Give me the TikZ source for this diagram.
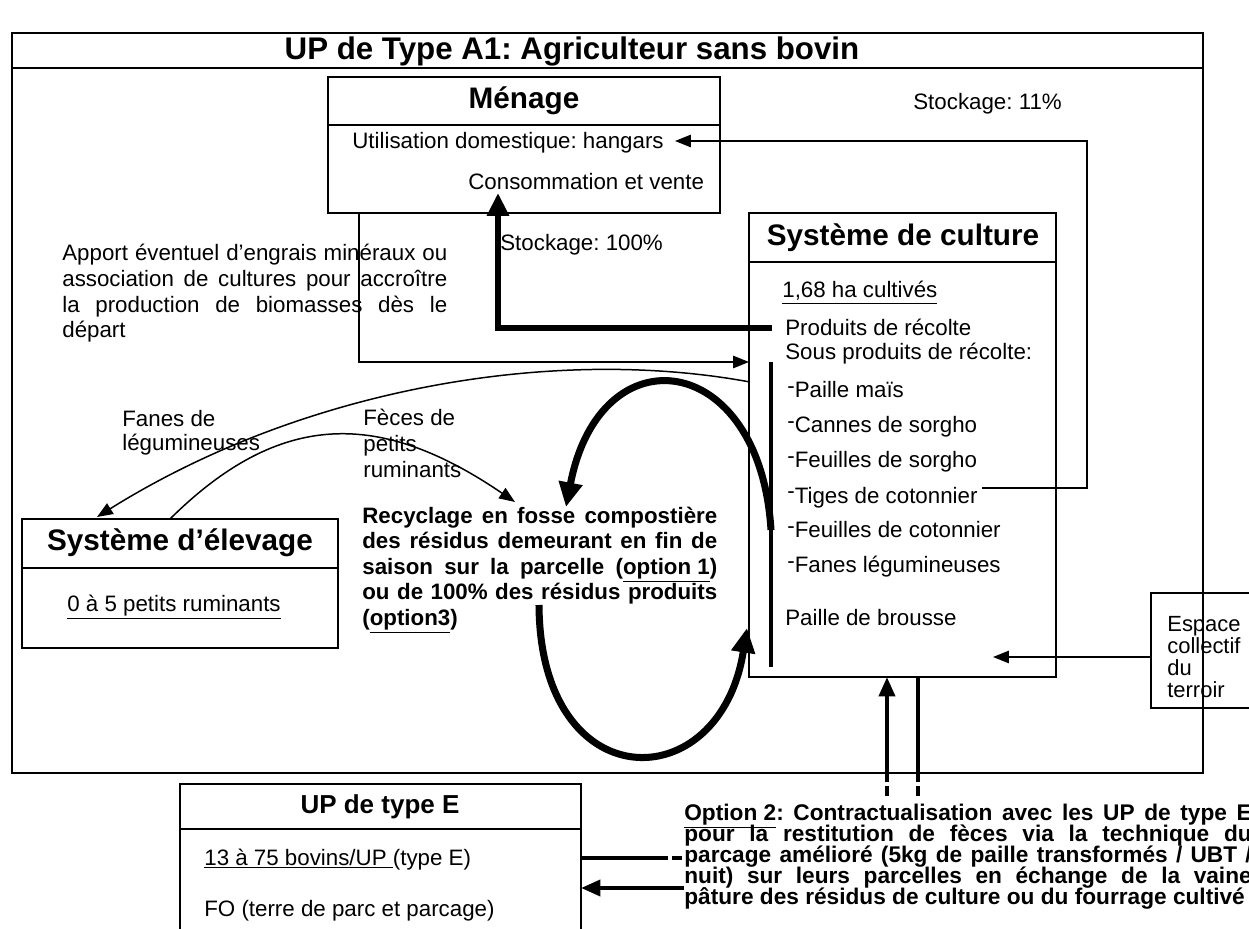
\documentclass[tikz,border=0pt]{standalone}
\usepackage{fontspec}
\setmainfont{Liberation Sans}
\usetikzlibrary{arrows.meta,fit}
\newcommand\bodyfs{\fontsize{12.7}{14.6}\selectfont}
\newcommand\headfs{\fontsize{16.9}{19}\selectfont\bfseries}
\newcommand\titlefs{\fontsize{17.8}{20}\selectfont\bfseries}
\newcommand\subheadfs{\fontsize{14.8}{17}\selectfont\bfseries}
\newcommand\tightsp{\spaceskip=0.278em plus 0.8em minus 0.05em\relax}
\newcommand\optfs{\fontsize{12.9}{12}\selectfont\bfseries\lineskiplimit=-\maxdimen\tightsp}
\newcommand\dashitem{\raisebox{0.22em}{-}}
\begin{document}
\frenchspacing
\hyphenpenalty=10000
\exhyphenpenalty=10000
\tolerance=9999
\begin{tikzpicture}[x=0.02cm,y=-0.02cm,
  boxline/.style={draw,line width=1.1pt,inner sep=0pt},
  thinline/.style={line width=0.85pt},
  thinarr/.style={line width=0.85pt,-{Triangle[length=9pt,width=7pt]}},
  thickarr/.style={line width=3.4pt,-{Triangle[length=13pt,width=12pt]}},
  curvearr/.style={line width=4pt,-{Triangle[length=14pt,width=13pt]}},
  medline/.style={line width=2.4pt},
  medarr/.style={line width=2.4pt,-{Triangle[length=11pt,width=9pt]}},
  lbl/.style={inner sep=0pt,font=\bodyfs,anchor=base west},
  every node/.style={font=\bodyfs}]
\useasboundingbox (0,0) rectangle (1249,929);
\clip (0,0) rectangle (1249,929);
\fill[white] (0,0) rectangle (1249,929);

% ---------- outer frame ----------
\coordinate (fr-nw) at (12,33);
\coordinate (fr-se) at (1203,773);
\node[boxline,fit=(fr-nw)(fr-se)] (frame) {};
\draw[line width=1.1pt] (12,68) -- (1203,68);
\node[font=\titlefs] (title) at (572,51) {UP de Type A1: Agriculteur sans bovin};

% ---------- Menage ----------
\coordinate (me-nw) at (328,77);
\coordinate (me-se) at (720,213);
\node[boxline,fit=(me-nw)(me-se)] (menage) {};
\draw[line width=1.1pt] (328,125) -- (720,125);
\node[font=\headfs] (menageT) at (524,101) {Ménage};
\node[lbl] (hangars) at (352,149) {Utilisation domestique: hangars};
\node[lbl] (conso) at (468,190) {Consommation et vente};

% ---------- Systeme de culture ----------
\coordinate (cu-nw) at (749,213);
\coordinate (cu-se) at (1056,677);
\node[boxline,fit=(cu-nw)(cu-se)] (culture) {};
\draw[line width=1.1pt] (749,262) -- (1056,262);
\node[font=\headfs] (cultureT) at (903,238) {Système de culture};
\node[lbl] (ha) at (782,298) {\underline{1,68 ha cultivés}};
\node[lbl] (prod) at (785,336) {Produits de récolte};
\node[lbl] (sousprod) at (785,360) {Sous produits de récolte:};
\node[lbl] (i1) at (787,398) {\dashitem Paille maïs};
\node[lbl] (i2) at (787,433) {\dashitem Cannes de sorgho};
\node[lbl] (i3) at (787,468) {\dashitem Feuilles de sorgho};
\node[lbl] (i4) at (787,503) {\dashitem Tiges de cotonnier};
\node[lbl] (i5) at (787,538) {\dashitem Feuilles de cotonnier};
\node[lbl] (i6) at (787,573) {\dashitem Fanes légumineuses};
\node[lbl] (brousse) at (785,625) {Paille de brousse};
\draw[line width=2.8pt] (771,362) -- (771,667);

% ---------- Systeme d'elevage ----------
\coordinate (el-nw) at (22,519);
\coordinate (el-se) at (338,648);
\node[boxline,fit=(el-nw)(el-se)] (elevage) {};
\draw[line width=1.1pt] (22,568) -- (338,568);
\node[font=\headfs] (elevageT) at (180,543) {Système d’élevage};
\node[lbl] (rum) at (67,611) {\underline{0 à 5 petits ruminants}};

% ---------- Espace collectif ----------
\coordinate (es-nw) at (1151,593);
\coordinate (es-se) at (1265,708);
\node[boxline,fit=(es-nw)(es-se)] (espace) {};
\node[lbl,align=left,font=\fontsize{12.5}{12.5}\selectfont] (espaceT) at (1167,697) {Espace\\collectif\\du\\terroir};

% ---------- UP de type E ----------
\coordinate (ue-nw) at (180,784);
\coordinate (ue-se) at (581,945);
\node[boxline,fit=(ue-nw)(ue-se)] (upe) {};
\draw[line width=1.1pt] (180,829) -- (581,829);
\node[font=\subheadfs] (upeT) at (380,807) {UP de type E};
\node[lbl] (bovins) at (204,865) {\underline{13 à 75 bovins/UP }(type E)};
\node[lbl] (fo) at (204,916) {FO (terre de parc et parcage)};

% ---------- free texts ----------
\node[lbl] (stock11) at (913,110) {Stockage: 11\%};
\node[lbl] (stock100) at (500,251) {Stockage: 100\%};
\node[lbl,text width=7.7cm,align=justify,font=\bodyfs\tightsp] (apport) at (62,261)
  {Apport éventuel d’engrais minéraux ou association de cultures pour accroître la production de biomasses dès le départ};
\node[lbl,align=left,font=\fontsize{12.7}{14.2}\selectfont] (fanes) at (122,451) {Fanes de\\légumineuses};
\node[lbl,align=left,font=\fontsize{12.7}{14.8}\selectfont] (feces) at (363,478) {Fèces de\\petits\\ruminants};
\node[lbl,text width=7.1cm,align=justify,font=\fontsize{12.7}{14.6}\selectfont\bfseries\tightsp] (recyc) at (362,523)
  {Recyclage en fosse compostière des résidus demeurant en fin de saison sur la parcelle (\underline{option 1}) ou de 100\% des résidus produits (\underline{option3})};
\node[lbl,text width=11.35cm,align=justify,font=\optfs] (opt2) at (684,820)
  {\underline{Option 2}: Contractualisation avec les UP de type E\linebreak pour la restitution de fèces via la technique du\linebreak parcage amélioré (5kg de paille transformés / UBT /\linebreak nuit) sur leurs parcelles en échange de la vaine\linebreak pâture des résidus de culture ou du fourrage cultivé};

% ---------- connector points ----------
\coordinate (prodL) at (772,328);
\coordinate (consB) at (498,193);
\coordinate (meOut) at (359,213);
\coordinate (cuIn) at (749,362);
\coordinate (tigesR) at (982,488);
\coordinate (hangR) at (675,141);
\coordinate (espL) at (1151,657);
\coordinate (espTip) at (993,657);
\coordinate (fanesS) at (750,382);
\coordinate (elevIn) at (97,517);
\coordinate (elevOut) at (170,519);
\coordinate (fecesTip) at (515,502);
\coordinate (cStart) at (771,530);
\coordinate (cTip) at (566,507);
\coordinate (dStart) at (539,605);
\coordinate (dTip) at (747,628);
\coordinate (b1) at (887,677);
\coordinate (b2) at (918,677);
\coordinate (ueR1) at (581,858);
\coordinate (ueR2) at (581,888);

% ---------- connectors ----------
\draw[thickarr] (prodL) -| (consB);
\draw[thinarr] (meOut) |- (cuIn);
\draw[thinarr] (tigesR) -- (1087,488) -- (1087,141) -- (hangR);
\draw[thinarr] (espL) -- (espTip);
\draw[thinarr] (fanesS) .. controls (550,345) and (300,390) .. (elevIn);
\draw[thinarr] (elevOut) .. controls (280,410) and (380,410) .. (fecesTip);
\draw[curvearr] (cStart) .. controls (760,350) and (600,330) .. (cTip);
\draw[curvearr] (dStart) .. controls (540,800) and (720,800) .. (dTip);
\draw[medarr] (887,782) -- (b1);
\draw[medline] (887,786) -- (887,796);
\draw[medline] (b2) -- (918,782);
\draw[medline] (918,786) -- (918,796);
\draw[medline] (ueR1) -- (668,858);
\draw[medline] (672,858) -- (682,858);
\draw[medarr] (684,888) -- (ueR2);
\end{tikzpicture}
\end{document}
